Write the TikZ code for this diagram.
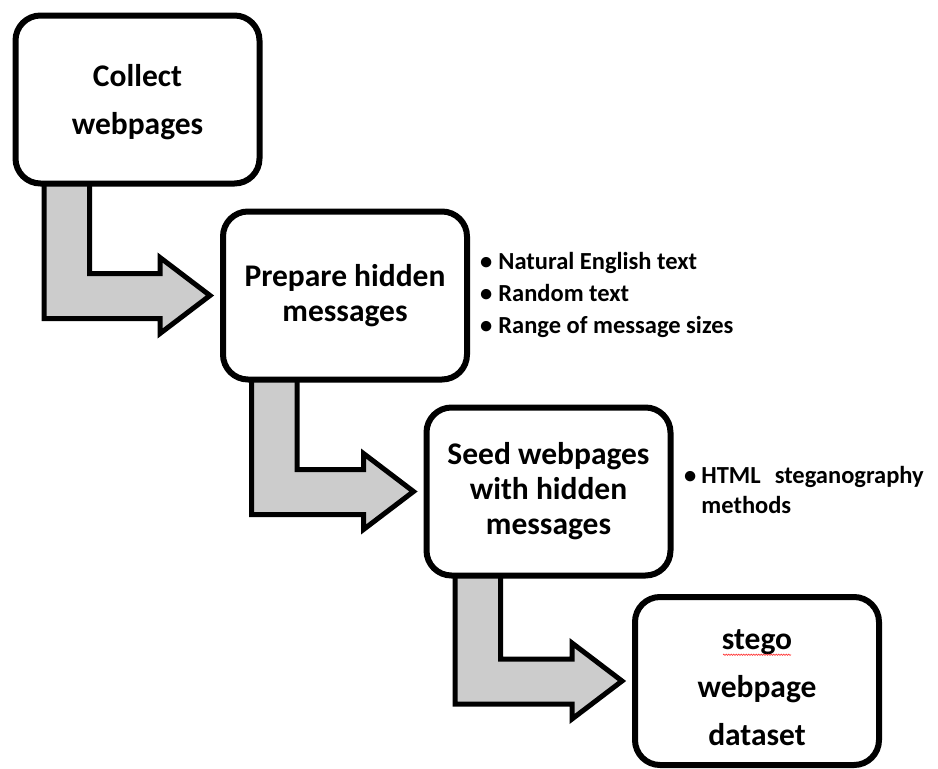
\documentclass[tikz,border=0pt]{standalone}
\usepackage{fontspec}
\setmainfont{Carlito}
\usetikzlibrary{calc,shadows,backgrounds,decorations.pathmorphing}
\tikzset{
  stagebox/.style={draw=black, line width=6pt, fill=white, rounded corners=25pt,
    minimum width=244pt, minimum height=168pt, inner sep=0pt, align=center,
    font=\bfseries\fontsize{31.5}{35}\selectfont,
    drop shadow={opacity=0.25, shadow xshift=2pt, shadow yshift=-2.5pt}},
  widebox/.style={stagebox, font=\bfseries\fontsize{31.5}{48}\selectfont},
  boxtext/.style={inner sep=0pt, align=center, font=\bfseries\fontsize{31.5}{48}\selectfont},
  flow/.style={draw=black, line width=5pt, fill=black!20, line join=miter},
  notes/.style={inner sep=0pt, align=left, font=\bfseries\fontsize{24.5}{32}\selectfont},
  squiggle/.style={draw=red!75, line width=0.7pt, decorate,
    decoration={snake, amplitude=0.6pt, segment length=2.5pt}}
}
\newcommand{\bentflow}[2]{%
  \draw[flow] let \p1=(#1.west), \p2=(#1.south), \p3=(#2.west) in
    (\x1+31.5pt,\y2+12pt) -- (\x1+31.5pt,\y3-23pt) -- (\x3-60pt,\y3-23pt)
    -- (\x3-60pt,\y3-38pt) -- (\x3-10pt,\y3) -- (\x3-60pt,\y3+38pt)
    -- (\x3-60pt,\y3+22pt) -- (\x1+77pt,\y3+22pt) -- (\x1+77pt,\y2+12pt) -- cycle;}
\begin{document}
\begin{tikzpicture}[x=1pt,y=1pt]
\useasboundingbox (0,0) rectangle (938,-769);
\node[widebox] (b1) at (137.5,-99.5) {};
\node[boxtext] (t1) at ([yshift=-3pt]b1.center) {Collect\\webpages};
\node[stagebox] (b2) at (345,-295.5) {Prepare hidden\\messages};
\node[stagebox] (b3) at (548.5,-491.5) {Seed webpages\\with hidden\\messages};
\node[widebox] (b4) at (757,-681) {};
\node[boxtext] (t4) at ([yshift=-7pt]b4.center) {stego\\webpage\\dataset};
\begin{scope}[on background layer]
  \bentflow{b1}{b2}
  \bentflow{b2}{b3}
  \bentflow{b3}{b4}
\end{scope}
\node[notes, anchor=north west] (n2) at (480,-247)
  {\begin{tabular}{@{}l@{\hspace{6pt}}l@{}}
   •&Natural English text\\
   •&Random text\\
   •&Range of message sizes
   \end{tabular}};
\node[notes, anchor=north west] (n3) at (684,-461)
  {\begin{tabular}{@{}l@{\hspace{5pt}}l@{}}
   •&HTML\hspace{14pt}steganography\\[-2pt]
   &methods
   \end{tabular}};
\draw[squiggle] ($(t4.north)+(-34pt,-25pt)$) coordinate (sq1) -- ($(t4.north)+(34pt,-25pt)$) coordinate (sq2);
\end{tikzpicture}
\end{document}
